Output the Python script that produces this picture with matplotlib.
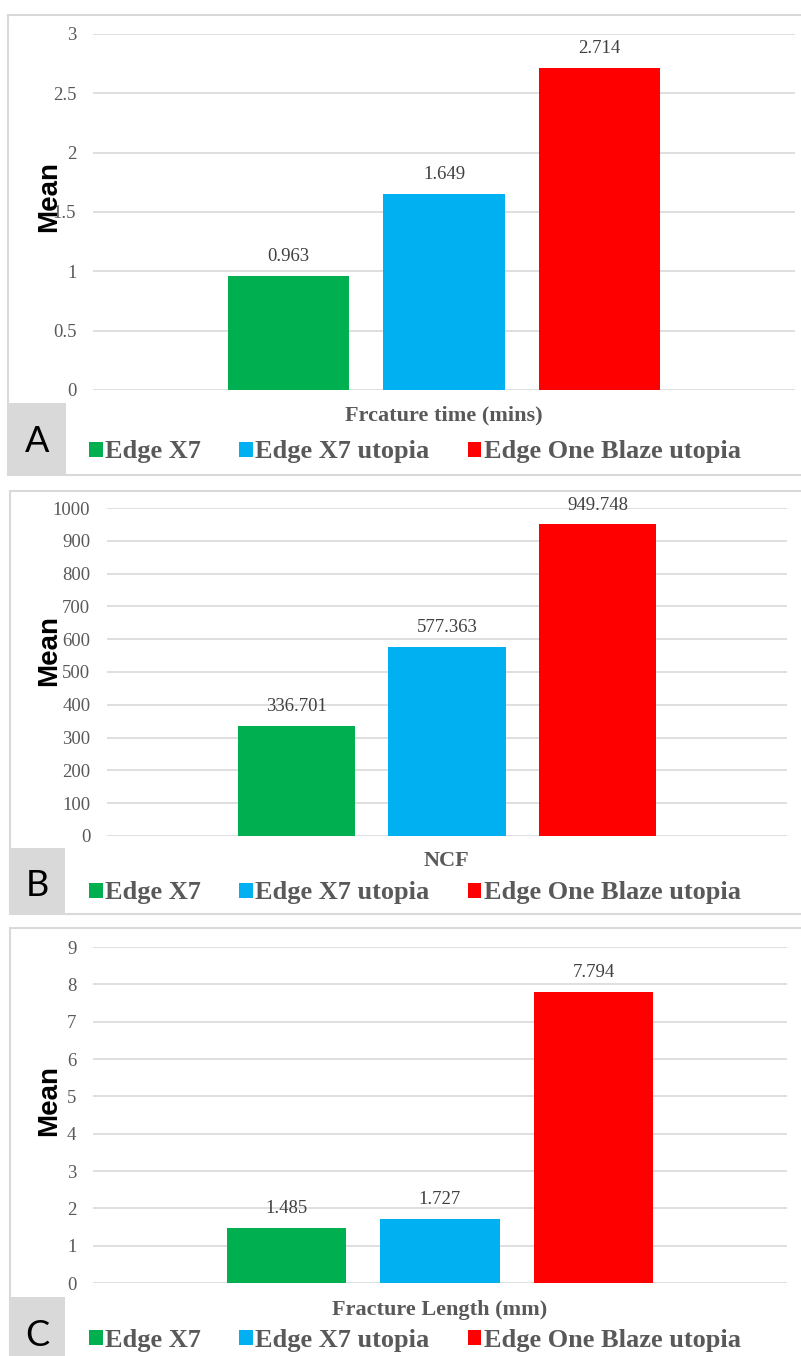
import matplotlib
matplotlib.use('Agg')
import matplotlib.pyplot as plt
from matplotlib.patches import Rectangle
from matplotlib.ticker import FuncFormatter

W, H = 801, 1356

series = ['Edge X7', 'Edge X7 utopia', 'Edge One Blaze utopia']
bar_colors = ['#00B050', '#00B0F0', '#FF0000']

fracture_time = [0.963, 1.649, 2.714]
ncf = [336.701, 577.363, 949.748]
fracture_length = [1.485, 1.727, 7.794]

time_ticks = [0, 0.5, 1, 1.5, 2, 2.5, 3]
ncf_ticks = [0, 100, 200, 300, 400, 500, 600, 700, 800, 900, 1000]
length_ticks = [0, 1, 2, 3, 4, 5, 6, 7, 8, 9]

grid_c = '#d9d9d9'
tick_c = '#595959'
label_c = '#404040'


def fx(px):
    return px / W


def fy(py):
    return 1 - py / H


fig = plt.figure(figsize=(W / 100, H / 100), dpi=100)
fig.patch.set_facecolor('white')

# panel frames (x0, y0, x1, y1 in pixels) and grey letter boxes
frames = [(8, 15, 806, 475), (10, 491, 806, 914), (10, 928, 806, 1362)]
boxes = [(8, 403, 66, 475), (10, 848, 65, 914), (10, 1297, 65, 1362)]
letters = ['A', 'B', 'C']
letter_y = [442, 886, 1336]

for (x0, y0, x1, y1) in frames:
    fig.patches.append(Rectangle((fx(x0), fy(y1)), fx(x1) - fx(x0), fy(y0) - fy(y1),
                                 transform=fig.transFigure, facecolor='white',
                                 edgecolor=grid_c, linewidth=1.5, zorder=-3))
for (x0, y0, x1, y1) in boxes:
    fig.patches.append(Rectangle((fx(x0), fy(y1)), fx(x1) - fx(x0), fy(y0) - fy(y1),
                                 transform=fig.transFigure, facecolor='#d9d9d9',
                                 edgecolor='none', zorder=-2))

for let, ly in zip(letters, letter_y):
    fig.text(fx(37), fy(ly), let, fontsize=26, family='Lato', ha='center', va='center', color='black')

# (left, top, right, bottom) of each plot area in pixels
panels = [
    ((93, 34, 795, 390), fracture_time, time_ticks, 'Frcature time (mins)', 415, 452, 197),
    ((107, 508, 787, 836), ncf, ncf_ticks, 'NCF', 861, 893, 650),
    ((93, 947, 787, 1283), fracture_length, length_ticks, 'Fracture Length (mm)', 1310, 1340, 1100),
]

for (l, t, r, b), vals, ticks, title, title_y, leg_y, mean_y in panels:
    ax = fig.add_axes([fx(l), fy(b), fx(r) - fx(l), fy(t) - fy(b)])
    ax.set_facecolor('none')
    pos = list(range(len(vals)))
    bars = ax.bar(pos, vals, width=0.78, color=bar_colors, zorder=3)
    ax.set_xlim(-1.26, 3.26)
    ax.set_ylim(ticks[0], ticks[-1])
    ax.set_yticks(ticks)
    ax.yaxis.set_major_formatter(FuncFormatter(lambda v, p: '%g' % v))
    ax.set_xticks([])
    for s in ax.spines.values():
        s.set_visible(False)
    ax.grid(axis='y', color=grid_c, linewidth=1.2, zorder=0)
    ax.tick_params(axis='y', length=0, pad=12, labelsize=13.5, labelcolor=tick_c)
    for lab in ax.get_yticklabels():
        lab.set_family('Liberation Serif')
    for bx, v in zip(pos, vals):
        ax.annotate('%g' % v, (bx, v), xytext=(0, 14), textcoords='offset points',
                    ha='center', va='center', fontsize=13.5, family='Liberation Serif',
                    color=label_c)

    fig.text(fx((l + r) / 2), fy(title_y), title, fontsize=16, family='Liberation Serif',
             weight='bold', color=tick_c, ha='center', va='center')
    fig.text(fx(49), fy(mean_y), 'Mean', fontsize=20, family='Liberation Sans',
             weight='bold', color='black', rotation=90, ha='center', va='center')

    leg = ax.legend(bars, series, loc='center', bbox_to_anchor=(fx(415), fy(leg_y)),
                    bbox_transform=fig.transFigure, ncol=3, frameon=False,
                    prop={'family': 'Liberation Serif', 'weight': 'bold', 'size': 19},
                    handlelength=0.5, handleheight=0.5, handletextpad=0.1,
                    columnspacing=1.45, borderpad=0, borderaxespad=0)
    for txt in leg.get_texts():
        txt.set_color(tick_c)

fig.savefig('out.png', dpi=100, facecolor='white')
